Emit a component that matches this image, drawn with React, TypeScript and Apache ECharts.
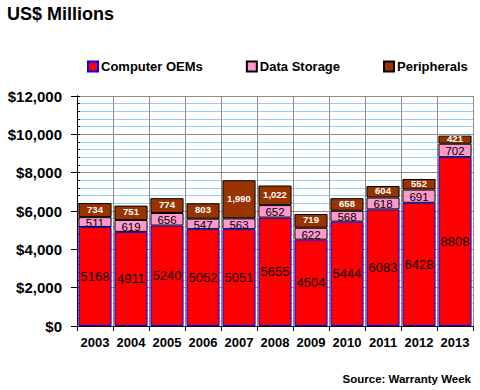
import React, { useEffect, useRef } from "react";
import * as echarts from "echarts";

const years = ["2003", "2004", "2005", "2006", "2007", "2008", "2009", "2010", "2011", "2012", "2013"];
const computerOEMs = [5168, 4911, 5240, 5052, 5051, 5655, 4504, 5444, 6083, 6428, 8808];
const dataStorage = [511, 619, 656, 547, 563, 652, 622, 568, 618, 691, 702];
const peripherals = [734, 751, 774, 803, 1990, 1022, 719, 658, 604, 552, 421];

const FONT = "'Liberation Sans', Arial, sans-serif";

export default function App() {
  const ref = useRef<HTMLDivElement>(null);
  useEffect(() => {
    if (!ref.current) return;
    const chart = echarts.init(ref.current, null, { renderer: "svg" });
    const yCommon = {
      type: "value" as const,
      min: 0,
      max: 12000,
      interval: 2000,
      position: "left" as const,
    };
    chart.setOption({
      animation: false,
      backgroundColor: "#ffffff",
      textStyle: { fontFamily: FONT },
      title: {
        text: "US$ Millions",
        left: 7,
        top: 5,
        padding: 0,
        textStyle: { fontSize: 18, fontWeight: "bold", color: "#000", fontFamily: FONT },
      },
      legend: {
        left: 87,
        top: 60,
        padding: 0,
        itemWidth: 10,
        itemHeight: 10,
        itemGap: 43,
        icon: "rect",
        textStyle: { fontSize: 13, fontWeight: "bold", color: "#000", fontFamily: FONT, padding: [0, 0, 0, -2] },
        data: ["Computer OEMs", "Data Storage", "Peripherals"],
      },
      graphic: [
        {
          type: "text",
          right: 9,
          top: 373,
          style: { text: "Source: Warranty Week", font: `bold 11.5px ${FONT}`, fill: "#000" },
        },
      ],
      grid: { left: 77, right: 7, top: 96, bottom: 64 },
      xAxis: {
        type: "category",
        data: years,
        axisLine: { lineStyle: { color: "#000", width: 1 } },
        axisTick: { show: true, length: 5, lineStyle: { color: "#000" } },
        splitLine: { show: true, lineStyle: { color: "#8c8c8c", width: 1 } },
        axisLabel: { interval: 0, fontSize: 13, fontWeight: "bold", color: "#000", margin: 10, fontFamily: FONT },
      },
      yAxis: [
        {
          ...yCommon,
          axisLine: { show: true, lineStyle: { color: "#000", width: 1 } },
          axisTick: { show: true, length: 6, lineStyle: { color: "#000" } },
          minorTick: { show: false, splitNumber: 5 },
          splitLine: { show: true, lineStyle: { color: "#8c8c8c", width: 1 } },
          minorSplitLine: { show: true, lineStyle: { color: "#99ccff", width: 1 } },
          axisLabel: {
            fontSize: 15,
            fontWeight: "bold",
            color: "#000",
            margin: 15,
            fontFamily: FONT,
            formatter: (v: number) => "$" + v.toLocaleString("en-US"),
          },
        },
        {
          ...yCommon,
          axisLine: { show: true, lineStyle: { color: "#000", width: 1 } },
          axisTick: { show: true, inside: true, length: 3, lineStyle: { color: "#000" } },
          minorTick: { show: true, splitNumber: 5, length: 3, lineStyle: { color: "#000" } },
          splitLine: { show: false },
          axisLabel: { show: false },
        },
      ],
      series: [
        {
          name: "Computer OEMs",
          type: "bar",
          stack: "total",
          data: computerOEMs,
          barCategoryGap: "8%",
          itemStyle: { color: "#ff0000", borderColor: "#0000ff", borderWidth: 1 },
          label: {
            show: true,
            position: "inside",
            color: "#000",
            fontSize: 13,
            fontFamily: FONT,
            formatter: (p: any) => String(p.value),
          },
        },
        {
          name: "Data Storage",
          type: "bar",
          stack: "total",
          data: dataStorage,
          itemStyle: { color: "#ff99cc", borderColor: "#000", borderWidth: 1 },
          label: {
            show: true,
            position: "inside",
            color: "#000",
            fontSize: 11.5,
            lineHeight: 10,
            offset: [0, 1],
            fontFamily: FONT,
            formatter: (p: any) => String(p.value),
          },
        },
        {
          name: "Peripherals",
          type: "bar",
          stack: "total",
          data: peripherals,
          itemStyle: { color: "#993300", borderColor: "#000", borderWidth: 1 },
          label: {
            show: true,
            position: "inside",
            color: "#fff",
            fontSize: 9.5,
            lineHeight: 8,
            offset: [0, -1],
            fontWeight: "bold",
            fontFamily: FONT,
            formatter: (p: any) => Number(p.value).toLocaleString("en-US"),
          },
        },
      ],
    });
    return () => chart.dispose();
  }, []);
  return <div ref={ref} style={{ width: 480, height: 390, position: "absolute", left: 0, top: 0 }} />;
}
